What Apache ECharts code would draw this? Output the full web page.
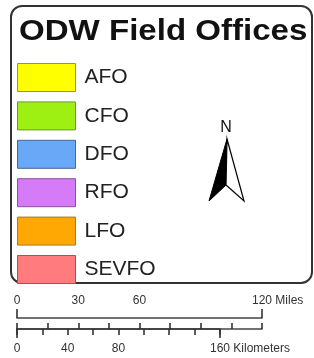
<!DOCTYPE html>
<html>
<head>
<meta charset="utf-8">
<script src="https://cdn.jsdelivr.net/npm/echarts@6/dist/echarts.min.js"></script>
<style>
html,body{margin:0;padding:0;background:#fff;}
#c{width:314px;height:358px;}
</style>
</head>
<body>
<div id="c"></div>
<script>
// ---- data ----
const titleText = 'ODW Field Offices';
const offices = ['AFO', 'CFO', 'DFO', 'RFO', 'LFO', 'SEVFO'];
const fillColors = ['#ffff00', '#9df012', '#69a7f7', '#d67bf7', '#ffa703', '#ff7b7d'];
const borderColors = ['#9c9434', '#6a9a34', '#44689a', '#8c5098', '#a87a2a', '#a0545a'];
const milesMax = 120;
const milesStep = 15;
const milesLabels = [0, 30, 60, 120];
const milesUnit = 'Miles';
const kmMax = 160;
const kmStep = 20;
const kmLabels = [0, 40, 80, 160];
const kmUnit = 'Kilometers';
const KM_PER_MILE = 1.609344;
const northLabel = 'N';

// ---- layout ----
const FONT = '"Liberation Sans", Arial, Helvetica, sans-serif';
const barLeft = 17;
const milesWidth = 245;
const kmWidth = milesWidth * kmMax / (milesMax * KM_PER_MILE);

const chart = echarts.init(document.getElementById('c'), null, {renderer: 'canvas'});

function unitPad(unit, size) {
  const ctx = document.createElement('canvas').getContext('2d');
  ctx.font = size + 'px ' + FONT;
  return ctx.measureText(' ' + unit).width;
}

function scaleAxis(gridIndex, max, step, labels, unit, position, tickLen, showLabels, margin) {
  const pad = unitPad(unit, 12);
  return {
    type: 'value', gridIndex: gridIndex, position: position,
    min: 0, max: max, interval: step,
    splitLine: {show: false},
    axisLine: {show: true, lineStyle: {color: '#444', width: 1.6}},
    axisTick: {show: true, inside: false, length: tickLen, lineStyle: {color: '#333', width: 1.6}},
    axisLabel: {
      show: showLabels, margin: margin, color: '#333', fontSize: 12, fontFamily: FONT,
      showMinLabel: true, showMaxLabel: true,
      formatter: function (v) {
        if (labels.indexOf(v) < 0) return '';
        if (v === max) return '{u|' + v + ' ' + unit + '}';
        return String(v);
      },
      rich: {u: {fontSize: 12, fontFamily: FONT, color: '#333', padding: [0, 0, 0, pad]}}
    }
  };
}

const option = {
  animation: false,
  grid: [
    {left: barLeft, width: milesWidth, top: 318, height: 11},
    {left: barLeft, width: kmWidth, top: 318, height: 11}
  ],
  xAxis: [
    scaleAxis(0, milesMax, milesStep, milesLabels, milesUnit, 'top', 6, true, 11),
    scaleAxis(0, milesMax, milesMax, milesLabels, milesUnit, 'top', 9, false, 11),
    scaleAxis(1, kmMax, kmStep, kmLabels, kmUnit, 'bottom', 6, true, 14),
    scaleAxis(1, kmMax, kmMax, kmLabels, kmUnit, 'bottom', 9, false, 14)
  ],
  yAxis: [
    {type: 'value', gridIndex: 0, show: false},
    {type: 'value', gridIndex: 1, show: false}
  ],
  legend: {
    orient: 'vertical', left: barLeft, top: 63, padding: 0,
    icon: 'rect', itemWidth: 58, itemHeight: 28, itemGap: 9.4,
    selectedMode: false,
    textStyle: {fontSize: 21, color: '#222', fontFamily: FONT, padding: [0, 0, 0, 4]},
    data: offices.map((n, i) => ({
      name: n,
      itemStyle: {color: fillColors[i], borderColor: borderColors[i], borderWidth: 1, opacity: 1}
    }))
  },
  series: offices.map((n, i) => ({
    name: n, type: 'scatter', xAxisIndex: 0, yAxisIndex: 0, data: [],
    itemStyle: {color: fillColors[i], opacity: 1}
  })),
  graphic: [
    {
      type: 'rect', z: -10, silent: true,
      shape: {x: 11, y: 6, width: 301, height: 277, r: 11},
      style: {fill: '#fff', stroke: '#333', lineWidth: 2}
    },
    {
      type: 'text', x: 19, y: 17, scaleX: 1.14, originX: 0,
      style: {text: titleText, font: 'bold 29px ' + FONT, fill: '#111', verticalAlign: 'top'}
    },
    {
      type: 'text', x: 226, y: 128,
      style: {text: northLabel, font: '16px ' + FONT, fill: '#111', align: 'center', verticalAlign: 'middle'}
    },
    {
      type: 'polygon',
      shape: {points: [[227, 139], [209, 201], [226, 185]]},
      style: {fill: '#000', stroke: '#000', lineWidth: 1}
    },
    {
      type: 'polygon',
      shape: {points: [[227, 139], [226, 185], [244, 201]]},
      style: {fill: '#fff', stroke: '#000', lineWidth: 1.2}
    }
  ]
};
chart.setOption(option);
</script>
</body>
</html>
